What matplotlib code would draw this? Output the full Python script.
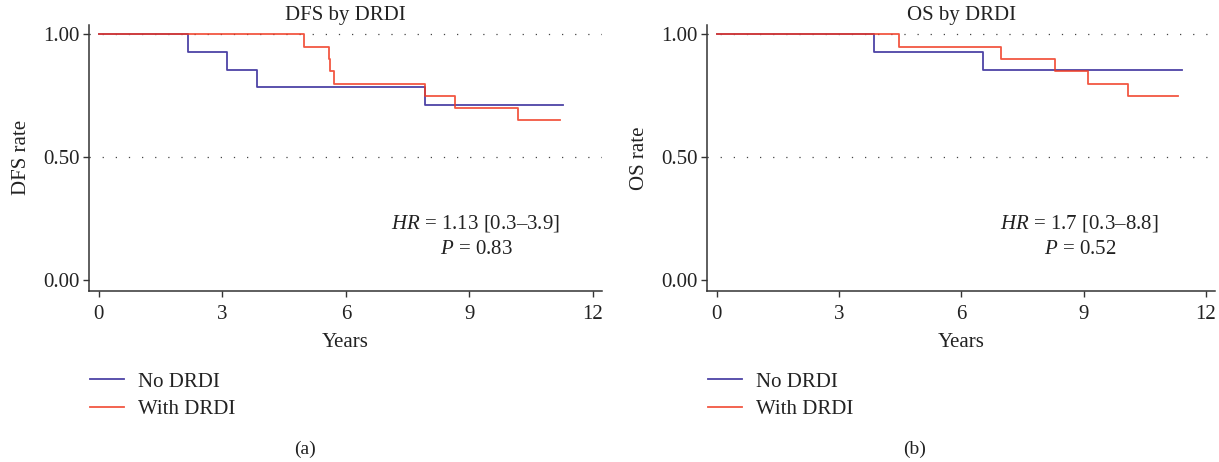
import matplotlib
matplotlib.use("Agg")
import matplotlib.pyplot as plt
from matplotlib.lines import Line2D

plt.rcParams['font.family'] = ['Liberation Serif', 'DejaVu Serif']
plt.rcParams['mathtext.fontset'] = 'custom'
plt.rcParams['mathtext.rm'] = 'Liberation Serif'
plt.rcParams['mathtext.it'] = 'Liberation Serif:italic'

# ---- data (Kaplan-Meier step curves) ----
dfs_no_t = [0, 2.16, 3.12, 3.84, 7.91, 11.28]
dfs_no_s = [1.0, 0.929, 0.857, 0.786, 0.714, 0.714]
dfs_with_t = [0, 4.99, 5.58, 5.62, 5.71, 7.91, 8.64, 10.19, 11.19]
dfs_with_s = [1.0, 0.95, 0.90, 0.85, 0.80, 0.75, 0.70, 0.65, 0.65]

os_no_t = [0, 3.85, 6.54, 11.41]
os_no_s = [1.0, 0.929, 0.857, 0.857]
os_with_t = [0, 4.46, 6.96, 8.30, 9.10, 10.09, 11.32]
os_with_s = [1.0, 0.95, 0.90, 0.85, 0.80, 0.75, 0.75]

titles = ["DFS by DRDI", "OS by DRDI"]
ylabels = ["DFS rate", "OS rate"]
hr_texts = ["$HR$ = 1.13 [0.3–3.9]", "$HR$ = 1.7 [0.3–8.8]"]
p_texts = ["$P$ = 0.83", "$P$ = 0.52"]
captions = ["(a)", "(b)"]
series_labels = ["No DRDI", "With DRDI"]
xticks = [0, 3, 6, 9, 12]
yticks = [0.0, 0.5, 1.0]
ytick_labels = ["0.00", "0.50", "1.00"]

BLUE = '#3a2e9c'
RED = '#f03a22'
TXT = '#222222'
FS = 15

W, H = 1219, 462
fig = plt.figure(figsize=(W / 100, H / 100), dpi=100)

axes_px = [(89.3, 602.0), (707.3, 1215.0)]
top_px, bot_px = 25.0, 290.7

data = [((dfs_no_t, dfs_no_s), (dfs_with_t, dfs_with_s)),
        ((os_no_t, os_no_s), (os_with_t, os_with_s))]
hr_pos = [(475, 224), (1079, 224)]
p_pos = [(476, 250), (1080, 250)]
cap_x = [W / 4, 3 * W / 4]

for i in range(2):
    l, r = axes_px[i]
    ax = fig.add_axes([l / W, (H - bot_px) / H, (r - l) / W, (bot_px - top_px) / H])
    (nt, ns), (wt, ws) = data[i]
    for yv in [0.5, 1.0]:
        ax.axhline(yv, color='#444444', lw=0.9, linestyle=(0, (1, 9.5)), zorder=1)
    ax.step(nt, ns, where='post', color=BLUE, lw=1.3, alpha=0.9, zorder=2)
    ax.step(wt, ws, where='post', color=RED, lw=1.3, alpha=0.85, zorder=3)
    ax.set_xlim(-0.23, 12.22)
    ax.set_ylim(-0.042, 1.038)
    ax.set_xticks(xticks)
    ax.set_xticklabels([str(x) for x in xticks])
    ax.set_yticks(yticks)
    ax.set_yticklabels(ytick_labels)
    for s in ['top', 'right']:
        ax.spines[s].set_visible(False)
    for s in ['left', 'bottom']:
        ax.spines[s].set_color('#333333')
        ax.spines[s].set_linewidth(1.1)
    ax.tick_params(axis='both', colors='#333333', labelcolor=TXT, labelsize=FS,
                   length=4, width=1.0, direction='out')
    ax.tick_params(axis='x', pad=6)
    ax.tick_params(axis='y', pad=3)
    ax.set_title(titles[i], fontsize=FS, color=TXT, pad=0)
    ax.set_xlabel("Years", fontsize=FS, color=TXT, labelpad=7)
    ax.set_ylabel(ylabels[i], fontsize=FS, color=TXT, labelpad=9)
    fig.text(hr_pos[i][0] / W, 1 - hr_pos[i][1] / H, hr_texts[i], fontsize=FS,
             color=TXT, ha='center', va='center')
    fig.text(p_pos[i][0] / W, 1 - p_pos[i][1] / H, p_texts[i], fontsize=FS,
             color=TXT, ha='center', va='center')
    fig.text(cap_x[i] / W, 1 - 449 / H, captions[i], fontsize=FS - 1,
             color=TXT, ha='center', va='center')
    handles = [Line2D([], [], color=BLUE, lw=1.3, alpha=0.9),
               Line2D([], [], color=RED, lw=1.3, alpha=0.85)]
    fig.legend(handles, series_labels, loc='upper left',
               bbox_to_anchor=((l + 1) / W, 1 - 372 / H), frameon=False,
               fontsize=FS, handlelength=1.63, handletextpad=0.67,
               labelspacing=0.37, borderpad=0, borderaxespad=0,
               labelcolor=TXT)

fig.savefig("out.png", dpi=100)
